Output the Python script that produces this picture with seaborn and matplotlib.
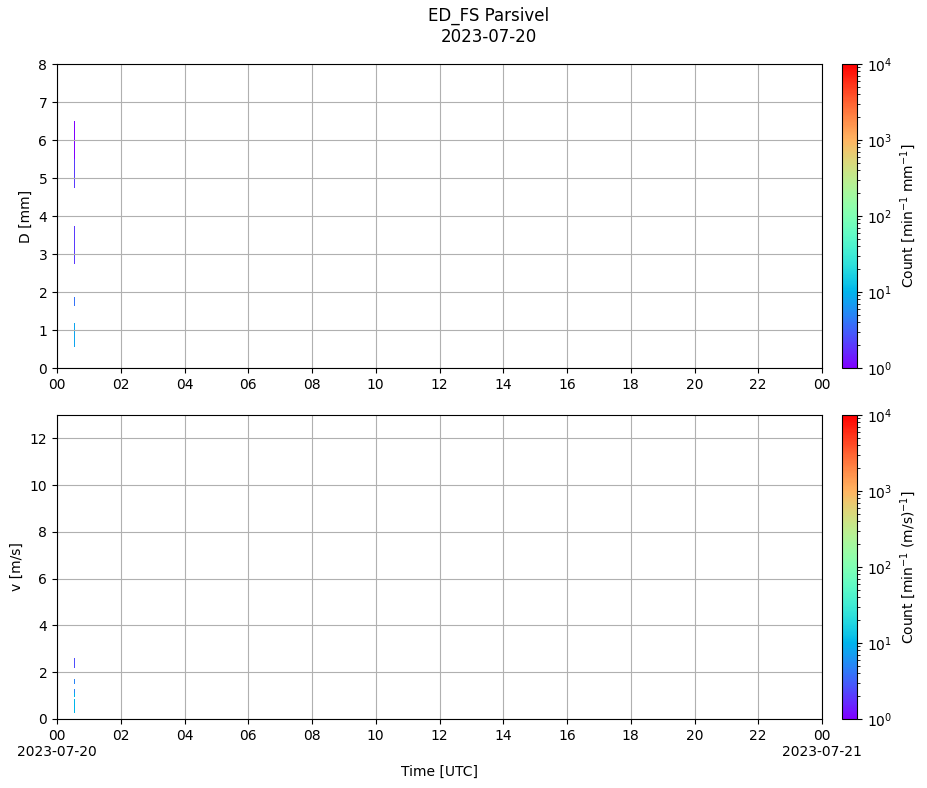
import datetime as dt

import matplotlib.dates as mdates
import matplotlib.pyplot as plt
import numpy as np
import seaborn as sns
from matplotlib.colors import LogNorm
from matplotlib.ticker import FuncFormatter

# Parsivel class centres
diam_classes = [0.062, 0.187, 0.312, 0.437, 0.562, 0.687, 0.812, 0.937, 1.062, 1.187,
                1.375, 1.625, 1.875, 2.125, 2.375, 2.75, 3.25, 3.75, 4.25, 4.75,
                5.5, 6.5, 7.5, 8.5, 9.5, 11, 13, 15, 17, 19, 21.5, 24.5]
vel_classes = [0.05, 0.15, 0.25, 0.35, 0.45, 0.55, 0.65, 0.75, 0.85, 0.95,
               1.1, 1.3, 1.5, 1.7, 1.9, 2.2, 2.6, 3.0, 3.4, 3.8,
               4.4, 5.2, 6.0, 6.8, 7.6, 8.8, 10.4, 12.0, 13.6, 15.2, 17.6, 20.8]

# counts [min^-1 per class unit] for the one minute with drops (00:32 UTC)
nan = np.nan
diam_counts = [nan, nan, nan, nan, 8, 8, 8, 8, 8, nan,
               nan, 4, nan, nan, nan, 2, 2, nan, nan, 2,
               1, nan, nan, nan, nan, nan, nan, nan, nan, nan, nan]
vel_counts = [nan, nan, 10, 10, 10, 10, 10, 10, nan, 10,
              5, nan, 5, nan, nan, 2.5, nan, nan, nan, nan,
              nan, nan, nan, nan, nan, nan, nan, nan, nan, nan, nan]

day = dt.datetime(2023, 7, 20)
minute_edges = [day + dt.timedelta(minutes=32), day + dt.timedelta(minutes=33)]

cmap = sns.color_palette("rainbow", as_cmap=True)
norm = LogNorm(vmin=1, vmax=1e4)

fig = plt.figure(figsize=(9.27, 7.88), dpi=100)
W, H = 927, 788


def px_axes(x0, y0, x1, y1):
    return fig.add_axes([x0 / W, 1 - y1 / H, (x1 - x0) / W, (y1 - y0) / H])


ax1 = px_axes(57, 64, 822, 368)
ax2 = px_axes(57, 415, 822, 719)
cax1 = px_axes(842, 64, 857, 368)
cax2 = px_axes(842, 415, 857, 719)

tx = mdates.date2num(minute_edges)

m1 = ax1.pcolormesh(tx, diam_classes, np.array(diam_counts)[:, None],
                    cmap=cmap, norm=norm, shading="flat", antialiased=True)
m2 = ax2.pcolormesh(tx, vel_classes, np.array(vel_counts)[:, None],
                    cmap=cmap, norm=norm, shading="flat", antialiased=True)

ax1.set_ylim(0, 8)
ax1.set_yticks(range(0, 9))
ax1.set_ylabel("D [mm]")
ax2.set_ylim(0, 13)
ax2.set_yticks(range(0, 13, 2))
ax2.set_ylabel("v [m/s]")
ax2.set_xlabel("Time [UTC]")


def hour_label(x, pos):
    t = mdates.num2date(x)
    if t.hour == 0:
        return t.strftime("%H\n%Y-%m-%d")
    return t.strftime("%H")


for ax in (ax1, ax2):
    ax.set_xlim(day, day + dt.timedelta(days=1))
    ax.xaxis.set_major_locator(mdates.HourLocator(byhour=range(0, 24, 2)))
    ax.grid(True, color="#b0b0b0", linewidth=0.8)

ax1.xaxis.set_major_formatter(mdates.DateFormatter("%H"))
ax2.xaxis.set_major_formatter(FuncFormatter(hour_label))

cb1 = fig.colorbar(m1, cax=cax1)
cb1.set_label("Count [min$^{-1}$ mm$^{-1}$]")
cb2 = fig.colorbar(m2, cax=cax2)
cb2.set_label("Count [min$^{-1}$ (m/s)$^{-1}$]")

fig.text(489 / W, 1 - 26 / H, "ED_FS Parsivel\n2023-07-20", ha="center", va="center",
         fontsize=12)

fig.savefig("out.png", dpi=100)
